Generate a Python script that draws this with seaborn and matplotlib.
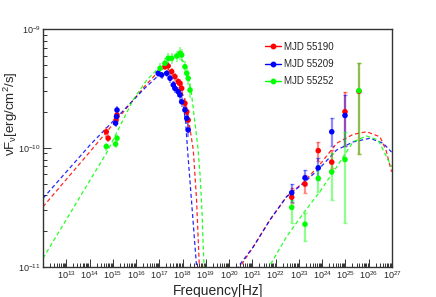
import numpy as np
import pandas as pd
import matplotlib
matplotlib.use("Agg")
import matplotlib.pyplot as plt
import seaborn as sns
from matplotlib.ticker import FixedLocator, LogLocator, NullFormatter, LogFormatterSciNotation
from matplotlib.lines import Line2D

epochs = ['MJD 55190', 'MJD 55209', 'MJD 55252']
colors = ['#ff0000', '#0000ff', '#00ff00']

# optical/UV + X-ray points: log10(nu), flux, relative error
red_lognu = [14.72, 14.80, 15.14, 15.18, 17.24, 17.38, 17.53, 17.67, 17.81, 17.89, 17.96, 18.10, 18.18, 18.24]
red_flux = [1.37e-10, 1.21e-10, 1.72e-10, 1.90e-10, 4.84e-10, 4.91e-10, 4.40e-10, 3.99e-10,
            3.62e-10, 3.51e-10, 3.18e-10, 2.38e-10, 2.02e-10, 1.72e-10]
red_rel = [0.09, 0.08, 0.08, 0.08, 0.07, 0.07, 0.08, 0.08, 0.08, 0.09, 0.09, 0.10, 0.10, 0.12]

blue_lognu = [15.12, 15.16, 15.18, 16.95, 17.10, 17.32, 17.46, 17.60, 17.67, 17.81, 17.89, 17.96, 18.10, 18.18, 18.24]
blue_flux = [1.62e-10, 1.84e-10, 2.09e-10, 4.26e-10, 4.12e-10, 4.26e-10, 3.87e-10, 3.40e-10,
             3.18e-10, 2.98e-10, 2.80e-10, 2.45e-10, 2.09e-10, 1.78e-10, 1.42e-10]
blue_rel = [0.08, 0.08, 0.08, 0.07, 0.07, 0.07, 0.08, 0.08, 0.08, 0.09, 0.09, 0.10, 0.10, 0.11, 0.12]

green_lognu = [14.72, 15.12, 15.18, 17.03, 17.24, 17.38, 17.53, 17.75, 17.89, 17.96, 18.10, 18.18, 18.24, 18.32]
green_flux = [1.03e-10, 1.08e-10, 1.21e-10, 4.69e-10, 5.17e-10, 5.70e-10, 5.70e-10, 5.96e-10,
              6.28e-10, 6.08e-10, 4.84e-10, 4.26e-10, 3.87e-10, 3.08e-10]
green_rel = [0.08, 0.07, 0.07, 0.10, 0.10, 0.10, 0.10, 0.11, 0.12, 0.12, 0.12, 0.13, 0.13, 0.14]

# gamma-ray points: log10(nu), flux, lower, upper
red_g_lognu = [22.69, 23.26, 23.83, 24.41, 24.98, 25.58]
red_g_flux = [3.85e-11, 4.97e-11, 9.5e-11, 7.6e-11, 2.02e-10, 3.0e-10]
red_g_lo = [3.44e-11, 4.2e-11, 7.7e-11, 6.8e-11, 1.04e-10, 8.9e-11]
red_g_hi = [4.6e-11, 5.9e-11, 1.13e-10, 9.6e-11, 2.95e-10, 5.2e-10]

blue_g_lognu = [22.69, 23.26, 23.83, 24.41, 24.98]
blue_g_flux = [4.2e-11, 5.6e-11, 6.8e-11, 1.37e-10, 1.88e-10]
blue_g_lo = [3.53e-11, 4.9e-11, 5.4e-11, 1.04e-10, 1.03e-10]
blue_g_hi = [5.0e-11, 6.5e-11, 8.2e-11, 1.78e-10, 2.8e-10]

green_g_lognu = [22.69, 23.26, 23.83, 24.41, 24.98, 25.58]
green_g_flux = [3.16e-11, 2.28e-11, 5.55e-11, 6.3e-11, 8.0e-11, 3.04e-10]
green_g_lo = [2.32e-11, 1.66e-11, 4.3e-11, 3.65e-11, 2.35e-11, 8.9e-11]
green_g_hi = [3.65e-11, 2.85e-11, 7.2e-11, 9.1e-11, 1.37e-10, 5.2e-10]

# model curves: log10(nu), log10(flux)
red_syn_x = [12.0, 14.02, 15.31, 16.38, 16.94, 17.24, 17.46, 17.72, 17.93, 18.10, 18.23, 18.34, 18.46, 18.60, 18.72, 18.76]
red_syn_y = [-10.495, -10.031, -9.730, -9.478, -9.360, -9.322, -9.351, -9.419, -9.503, -9.604, -9.722, -9.865, -10.017, -10.438, -11.0, -11.28]
blue_syn_x = [12.0, 14.02, 15.31, 16.38, 16.94, 17.16, 17.37, 17.63, 17.84, 18.02, 18.13, 18.21, 18.38, 18.60, 18.64]
blue_syn_y = [-10.424, -9.975, -9.714, -9.495, -9.393, -9.360, -9.377, -9.444, -9.528, -9.629, -9.781, -10.008, -10.438, -11.0, -11.28]
green_syn_x = [12.0, 14.76, 15.87, 16.46, 17.03, 17.46, 17.80, 18.06, 18.23, 18.39, 18.49, 18.58, 18.66, 18.75, 18.83, 18.92, 18.96]
green_syn_y = [-10.929, -10.031, -9.596, -9.427, -9.315, -9.259, -9.233, -9.275, -9.385, -9.553, -9.722, -9.865, -10.000, -10.227, -10.522, -11.0, -11.28]

red_ic_x = [20.25, 20.47, 21.04, 21.75, 22.47, 23.19, 23.90, 24.62, 25.33, 25.91, 26.48, 26.74, 26.98]
red_ic_y = [-11.2, -11.0, -10.832, -10.607, -10.410, -10.290, -10.140, -9.960, -9.885, -9.863, -9.905, -10.017, -10.200]
blue_ic_x = [20.2, 20.39, 21.04, 21.75, 22.47, 23.19, 23.90, 24.62, 25.33, 26.05, 26.62, 26.98]
blue_ic_y = [-11.2, -11.0, -10.832, -10.607, -10.410, -10.298, -10.168, -10.017, -9.949, -9.918, -9.960, -10.034]
green_ic_x = [21.55, 21.72, 22.47, 23.19, 23.90, 24.62, 25.33, 25.91, 26.41, 26.98]
green_ic_y = [-11.2, -11.0, -10.747, -10.550, -10.368, -10.160, -9.947, -9.899, -9.933, -10.158]

sns.set_style("ticks")
plt.rcParams['font.family'] = ['Liberation Sans', 'DejaVu Sans']
plt.rcParams['mathtext.fontset'] = 'custom'
plt.rcParams['mathtext.rm'] = 'Liberation Sans'
plt.rcParams['mathtext.it'] = 'Liberation Sans:italic'

fig = plt.figure(figsize=(4.36, 2.97), dpi=100)
ax = fig.add_axes([43/436, 1-266.7/297, 349/436, 237.4/297])
ax.set_xscale('log')
ax.set_yscale('log')

dash = (0, (3.2, 2.2))
models = [(red_syn_x, red_syn_y, red_ic_x, red_ic_y),
          (blue_syn_x, blue_syn_y, blue_ic_x, blue_ic_y),
          (green_syn_x, green_syn_y, green_ic_x, green_ic_y)]
for (sx, sy, ix, iy), c in zip(models, colors):
    for xx, yy in [(sx, sy), (ix, iy)]:
        sns.lineplot(x=10**np.array(xx), y=10**np.array(yy), ax=ax, color=c, sort=False,
                     estimator=None, lw=0.9, alpha=0.85, linestyle=dash)

low = [(red_lognu, red_flux, red_rel), (blue_lognu, blue_flux, blue_rel), (green_lognu, green_flux, green_rel)]
high = [(red_g_lognu, red_g_flux, red_g_lo, red_g_hi), (blue_g_lognu, blue_g_flux, blue_g_lo, blue_g_hi),
        (green_g_lognu, green_g_flux, green_g_lo, green_g_hi)]

rows = []
for ep, c, (lx, f, r), (gx, gf, glo, ghi) in zip(epochs, colors, low, high):
    nu = 10**np.array(lx)
    f = np.array(f)
    e = f * np.array(r)
    ax.errorbar(nu, f, yerr=e, xerr=[nu - nu/10**0.03, nu*10**0.03 - nu], fmt='none',
                ecolor=c, alpha=0.45, elinewidth=1.3, capsize=0)
    gnu = 10**np.array(gx)
    gf = np.array(gf)
    ax.errorbar(gnu, gf, yerr=[gf - np.array(glo), np.array(ghi) - gf], fmt='none',
                ecolor=c, alpha=0.45, elinewidth=1.6, capsize=1.5, capthick=1)
    for a, b in zip(list(nu) + list(gnu), list(f) + list(gf)):
        rows.append({'nu': a, 'flux': b, 'epoch': ep})
df = pd.DataFrame(rows)
sns.scatterplot(data=df, x='nu', y='flux', hue='epoch', palette=colors, s=16,
                edgecolor='none', ax=ax, legend=False, zorder=5)

ax.set_xlim(1e12, 1e27)
ax.set_ylim(1e-11, 1e-9)
ax.xaxis.set_major_locator(FixedLocator([10.0**k for k in range(13, 28)]))
ax.xaxis.set_major_formatter(LogFormatterSciNotation())
ax.xaxis.set_minor_locator(LogLocator(base=10, subs=np.arange(2, 10), numticks=40))
ax.xaxis.set_minor_formatter(NullFormatter())
ax.yaxis.set_major_locator(FixedLocator([1e-11, 1e-10, 1e-9]))
ax.yaxis.set_major_formatter(LogFormatterSciNotation())
ax.yaxis.set_minor_locator(LogLocator(base=10, subs=np.arange(2, 10), numticks=20))
ax.yaxis.set_minor_formatter(NullFormatter())
ax.tick_params(which='both', direction='in', top=False, right=False, labelsize=6.5, width=0.7, color='#333333')
ax.tick_params(which='major', length=5.5, pad=2)
ax.tick_params(axis='y', which='major', pad=1.5)
ax.tick_params(which='minor', length=2.8)
for s in ax.spines.values():
    s.set_linewidth(1.0)
    s.set_color('#333333')
ax.set_xlabel('')
ax.set_ylabel('')

fig.text(218/436, 1-290.5/297, 'Frequency[Hz]', ha='center', va='center', fontsize=10)
fig.text(11/436, 1-114/297, r'$\mathrm{\nu F_{\nu}}$[erg/cm$^{2}$/s]', rotation=90,
         ha='center', va='center', fontsize=9.5)

handles = [Line2D([], [], color=c, marker='o', markersize=3.2, lw=1) for c in colors]
ax.legend(handles, epochs, loc='upper left', bbox_to_anchor=(0.636, 0.948), frameon=False,
          fontsize=7, handlelength=1.6, handletextpad=0.4, labelspacing=0.75,
          borderpad=0, borderaxespad=0)

fig.savefig('out.png', dpi=100)
